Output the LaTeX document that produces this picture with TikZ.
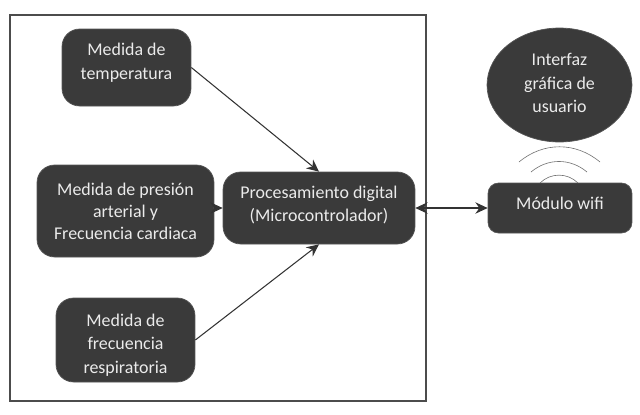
\documentclass[tikz,border=0pt]{standalone}
\usepackage{fontspec}
\usepackage{xcolor}
\usepackage{tikz}
\usetikzlibrary{arrows.meta, positioning, calc, shapes.geometric}
\setmainfont{Carlito}
\definecolor{cajagris}{HTML}{3A3A3A}
\definecolor{bordegris}{HTML}{555555}
\newcommand{\subetexto}[1]{\rule[-#1]{0pt}{#1}}
\newcommand{\bajatexto}[1]{\rule{0pt}{#1}}
\tikzset{
    caja/.style={draw=bordegris, fill=cajagris, rounded corners=10pt, text=white!92!black, align=center, font=\fontsize{10.2}{13.4}\selectfont, inner sep=0pt},
    flecha/.style={draw=black!80, line width=0.6pt, -{Stealth[length=7pt, width=6.5pt]}},
    onda/.style={draw=black!55, line width=0.35pt}
}

\begin{document}
\begin{tikzpicture}[x=0.02cm, y=-0.02cm]
    \useasboundingbox (0,0) rectangle (640,414);

    % Recuadro exterior
    \draw[black!70, line width=0.8pt] (10,15) rectangle (426,401);

    % Bloques de medida
    \node[caja, minimum width=2.58cm, minimum height=1.54cm] (temp) at (126.5,67.5) {Medida de\\temperatura\subetexto{6.8pt}};
    \node[caja, minimum width=3.54cm, minimum height=1.84cm] (pres) at (125.5,211) {Medida de presión\\[-0.8pt]arterial y\\[-0.8pt]Frecuencia cardiaca};
    \node[caja, minimum width=2.78cm, minimum height=1.68cm] (resp) at (125.5,340) {\bajatexto{12.6pt}Medida de\\frecuencia\\respiratoria};

    % Procesamiento y wifi
    \node[caja, minimum width=3.84cm, minimum height=1.44cm] (proc) at (319,208) {Procesamiento digital\\(Microcontrolador)\subetexto{4.8pt}};
    \node[caja, minimum width=2.88cm, minimum height=1.00cm, rounded corners=6pt] (wifi) at (560,208) {Módulo wifi\subetexto{5.6pt}};

    % Interfaz
    \node[caja, ellipse, rounded corners=0pt, minimum width=2.9cm, minimum height=2.28cm] (gui) at (559.5,85) {Interfaz\\gráfica de\\usuario\subetexto{2.3pt}};

    % Flechas
    \draw[flecha] (temp.east) -- (proc.north);
    \draw[flecha] (proc.west -| pres.east) -- (proc.west);
    \draw[flecha] (resp.east) -- (proc.south);
    \draw[flecha, {Stealth[length=7pt, width=6.5pt]}-{Stealth[length=7pt, width=6.5pt]}] (proc.east) -- (wifi.west);

    % Ondas wifi
    \coordinate (o1a) at (519,162);
    \coordinate (o1b) at (600,162);
    \coordinate (o2a) at (531,172);
    \coordinate (o2b) at (587,172);
    \coordinate (o3a) at (540,183);
    \coordinate (o3b) at (578,183);
    \draw[onda] (o1a) to[bend left=40] (o1b);
    \draw[onda] (o2a) to[bend left=40] (o2b);
    \draw[onda] (o3a) to[bend left=45] (o3b);
\end{tikzpicture}
\end{document}
